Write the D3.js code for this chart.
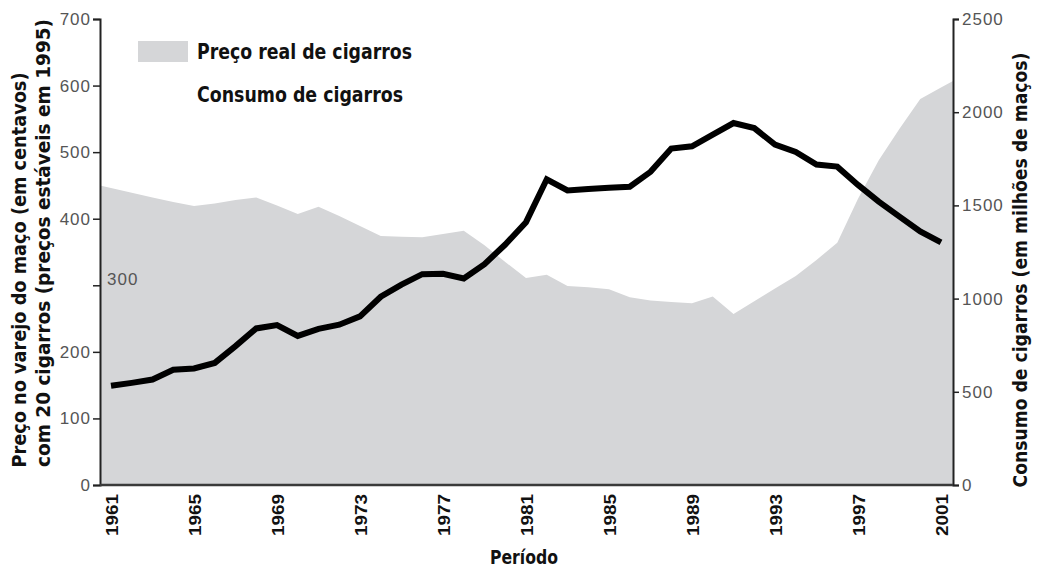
<!DOCTYPE html>
<html>
<head>
<meta charset="utf-8">
<script src="https://cdn.jsdelivr.net/npm/d3@7"></script>
<style>
  html, body { margin: 0; padding: 0; background: #fff; }
  svg { display: block; }
</style>
</head>
<body>
<svg id="chart" width="1040" height="568"></svg>
<script>
// ---------------- DATA ----------------
const years = [1961,1962,1963,1964,1965,1966,1967,1968,1969,1970,
               1971,1972,1973,1974,1975,1976,1977,1978,1979,1980,
               1981,1982,1983,1984,1985,1986,1987,1988,1989,1990,
               1991,1992,1993,1994,1995,1996,1997,1998,1999,2000,2001];

// Preço real de cigarros (centavos, preços de 1995) - left axis
const price = [446,439,432,425,419,423,428,432,420,407,
               418,404,389,374,373,372,377,382,360,335,
               311,316,299,297,294,282,277,275,273,283,
               257,276,295,314,338,364,430,488,535,580,597];

// Consumo de cigarros (milhões de maços) - right axis
const consumption = [532,548,566,618,625,655,745,840,858,800,
                     838,860,905,1010,1075,1131,1133,1108,1185,1290,
                     1410,1640,1580,1588,1595,1600,1680,1805,1817,1880,
                     1942,1915,1826,1787,1719,1708,1610,1520,1440,1360,1302];

const xTicks = [1961,1965,1969,1973,1977,1981,1985,1989,1993,1997,2001];
const leftTicks = [0,100,200,300,400,500,600,700];
const rightTicks = [0,500,1000,1500,2000,2500];

const legendLabels = ["Preço real de cigarros", "Consumo de cigarros"];
const leftTitle = ["Preço no varejo do maço (em centavos)", "com 20 cigarros (preços estáveis em 1995)"];
const rightTitle = "Consumo de cigarros (em milhões de maços)";
const xTitle = "Período";

// ---------------- LAYOUT ----------------
const svg = d3.select("#chart");
const plot = { left: 100, right: 953, top: 19, bottom: 485 };
const areaColor = "#d5d6d8";
const tickColor = "#555";
const axisColor = "#222";
const numFont = "Liberation Sans, Arial, sans-serif";
const boldNarrow = "Liberation Sans Narrow, Arial Narrow, DejaVu Sans Condensed, sans-serif";

const x = d3.scaleLinear().domain([1961, 2001]).range([111, 941]);
const yL = d3.scaleLinear().domain([0, 700]).range([plot.bottom, plot.top]);
const yR = d3.scaleLinear().domain([0, 2500]).range([plot.bottom, plot.top]);

// ---------------- AREA (price) ----------------
const n = years.length;
const leftYear = x.invert(plot.left), rightYear = x.invert(plot.right);
const priceRows = years.map((yr, i) => ({ yr, v: price[i] }));
// extend the shaded area to the plot frame along the first/last segment
const edgeL = { yr: leftYear, v: price[0] + (price[0] - price[1]) * (years[0] - leftYear) };
const edgeR = { yr: rightYear, v: price[n-1] + (price[n-1] - price[n-2]) * (rightYear - years[n-1]) };
const areaRows = [edgeL, ...priceRows, edgeR];

svg.append("path")
  .datum(areaRows)
  .attr("fill", areaColor)
  .attr("d", d3.area().x(d => x(d.yr)).y0(plot.bottom).y1(d => yL(d.v)));

// ---------------- LINE (consumption) ----------------
svg.append("path")
  .datum(years.map((yr, i) => ({ yr, v: consumption[i] })))
  .attr("fill", "none")
  .attr("stroke", "#000")
  .attr("stroke-width", 6)
  .attr("stroke-linejoin", "miter")
  .attr("d", d3.line().x(d => x(d.yr)).y(d => yR(d.v)));

// ---------------- AXES ----------------
const gL = svg.append("g").attr("transform", `translate(${plot.left},0)`)
  .call(d3.axisLeft(yL).tickValues(leftTicks).tickSize(7).tickPadding(2)
        .tickFormat(d => d === 300 ? "" : String(d)));
const gR = svg.append("g").attr("transform", `translate(${plot.right},0)`)
  .call(d3.axisRight(yR).tickValues(rightTicks).tickSize(6).tickPadding(3)
        .tickFormat(d => String(d)));
[gL, gR].forEach(g => {
  g.attr("font-family", numFont).attr("font-size", 17);
  g.select(".domain").attr("stroke", axisColor).attr("stroke-width", 2);
  g.selectAll(".tick line").attr("stroke", axisColor).attr("stroke-width", 1.5);
  g.selectAll(".tick text").attr("fill", tickColor).attr("letter-spacing", 1);
});
// the "300" label sits inside the plot area in the reference
svg.append("text")
  .attr("x", plot.left + 7).attr("y", yL(300))
  .attr("fill", tickColor)
  .attr("font-family", numFont).attr("font-size", 17).attr("letter-spacing", 1)
  .text("300");

const gX = svg.append("g").attr("transform", `translate(0,${plot.bottom})`)
  .call(d3.axisBottom(x).tickValues(xTicks).tickSize(0).tickPadding(0).tickFormat(d => String(d)));
gX.attr("font-family", "Liberation Sans, Arial, sans-serif").attr("font-size", 17).attr("font-weight", "bold");
gX.select(".domain").attr("d", `M${plot.left},0H${plot.right}`)
  .attr("stroke", "#3a3a3a").attr("stroke-width", 2.5);
gX.selectAll(".tick text")
  .attr("transform", "rotate(-90)")
  .attr("text-anchor", "end")
  .attr("x", -9).attr("y", 0).attr("dy", "0.36em")
  .attr("textLength", 42).attr("lengthAdjust", "spacingAndGlyphs")
  .attr("fill", "#111");

// ---------------- TITLES ----------------
function vtext(cx, cy, str, len) {
  svg.append("text")
    .attr("transform", `translate(${cx},${cy}) rotate(-90)`)
    .attr("text-anchor", "middle").attr("dy", "0.35em")
    .attr("textLength", len).attr("lengthAdjust", "spacingAndGlyphs")
    .attr("fill", "#111")
    .attr("font-family", boldNarrow).attr("font-weight", "bold").attr("font-size", 19)
    .text(str);
}
vtext(19, 270, leftTitle[0], 395);
vtext(43, 243, leftTitle[1], 448);
vtext(1020, 270, rightTitle, 435);

svg.append("text")
  .attr("x", 524).attr("y", 564).attr("text-anchor", "middle")
  .attr("textLength", 68).attr("lengthAdjust", "spacingAndGlyphs")
  .attr("fill", "#111")
  .attr("font-family", boldNarrow).attr("font-weight", "bold").attr("font-size", 19)
  .text(xTitle);

// ---------------- LEGEND ----------------
svg.append("rect").attr("x", 138).attr("y", 41).attr("width", 50).attr("height", 21)
  .attr("fill", areaColor);
svg.selectAll("text.legend").data(legendLabels).join("text")
  .attr("class", "legend")
  .attr("x", 197).attr("y", (d, i) => 58.5 + i * 43)
  .attr("textLength", (d, i) => i === 0 ? 215 : 206).attr("lengthAdjust", "spacingAndGlyphs")
  .attr("fill", "#111")
  .attr("font-family", boldNarrow).attr("font-weight", "bold").attr("font-size", 21)
  .text(d => d);
</script>
</body>
</html>
